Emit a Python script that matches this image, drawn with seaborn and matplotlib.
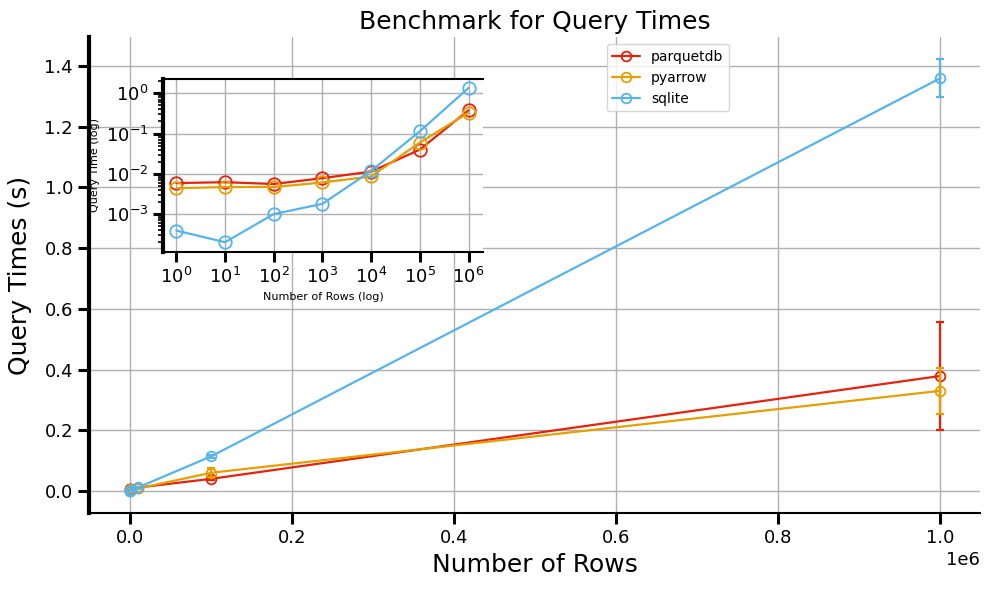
import numpy as np
import pandas as pd
import matplotlib
matplotlib.use("Agg")
import matplotlib.pyplot as plt
import seaborn as sns

rows = [1, 10, 100, 1000, 10000, 100000, 1000000]
series = ["parquetdb", "pyarrow", "sqlite"]
parquetdb_mean = [0.0059, 0.0062, 0.0056, 0.0078, 0.0114, 0.040, 0.379]
pyarrow_mean = [0.0044, 0.0047, 0.0047, 0.0061, 0.0086, 0.060, 0.330]
sqlite_mean = [0.00039, 0.00020, 0.0010, 0.0018, 0.0118, 0.114, 1.360]
parquetdb_err = [0.0005, 0.0005, 0.0005, 0.0006, 0.001, 0.004, 0.177]
pyarrow_err = [0.0004, 0.0004, 0.0004, 0.0005, 0.001, 0.015, 0.076]
sqlite_err = [0.00003, 0.00002, 0.0001, 0.0002, 0.001, 0.004, 0.062]
colors = ["#e8210c", "#e69f00", "#56b4e9"]

means = [parquetdb_mean, pyarrow_mean, sqlite_mean]
errs = [parquetdb_err, pyarrow_err, sqlite_err]
df = pd.DataFrame({
    "rows": rows * 3,
    "time": parquetdb_mean + pyarrow_mean + sqlite_mean,
    "err": parquetdb_err + pyarrow_err + sqlite_err,
    "db": sum([[s] * len(rows) for s in series], []),
})

sns.set_theme(style="whitegrid")
plt.rcParams["font.family"] = ["DejaVu Sans"]
plt.rcParams["text.color"] = "black"
plt.rcParams["axes.labelcolor"] = "black"
plt.rcParams["xtick.color"] = "black"
plt.rcParams["ytick.color"] = "black"

fig = plt.figure(figsize=(9.89, 5.9), dpi=100)
ax = fig.add_axes([0.09, 0.1305, 0.901, 0.8065])

for s, c, m, e in zip(series, colors, means, errs):
    sub = df[df.db == s]
    sns.lineplot(data=sub, x="rows", y="time", ax=ax, color=c, marker="o",
                 markerfacecolor="none", markeredgecolor=c, markeredgewidth=1.3,
                 markersize=7, label=s, linewidth=1.6, errorbar=None)
    ax.errorbar(rows, m, yerr=e, fmt="none", ecolor=c, capsize=3, elinewidth=1.6,
                capthick=1.6)

ax.set_xlim(-0.0506e6, 1.049e6)
ax.set_ylim(-0.0725, 1.495)
ax.set_xticks([0, 0.2e6, 0.4e6, 0.6e6, 0.8e6, 1.0e6])
ax.set_yticks([0.0, 0.2, 0.4, 0.6, 0.8, 1.0, 1.2, 1.4])
ax.set_xlabel("Number of Rows", fontsize=18)
ax.set_ylabel("Query Times (s)", fontsize=18, labelpad=9)
ax.set_title("Benchmark for Query Times", fontsize=18, color="black")
ax.tick_params(axis="both", labelsize=13, length=8, width=2.2, direction="out",
               bottom=True, left=True, color="black", labelcolor="black")
ax.xaxis.get_offset_text().set_fontsize(13)
ax.grid(True, color="#b0b0b0", linewidth=1.0)
ax.set_facecolor("white")
for sp in ["top", "right"]:
    ax.spines[sp].set_visible(False)
ax.spines["left"].set_linewidth(3)
ax.spines["left"].set_color("black")
ax.spines["bottom"].set_linewidth(1.5)
ax.spines["bottom"].set_color("black")
leg = ax.legend(loc="upper left", bbox_to_anchor=(0.581, 0.985), borderaxespad=0,
                fontsize=10, frameon=True)
for t in leg.get_texts():
    t.set_color("black")

# inset
ins = fig.add_axes([0.165, 0.573, 0.323, 0.293])
for s, c, m, e in zip(series, colors, means, errs):
    sub = df[df.db == s]
    sns.lineplot(data=sub, x="rows", y="time", ax=ins, color=c, marker="o",
                 markerfacecolor="none", markeredgecolor=c, markeredgewidth=1.3,
                 markersize=9, linewidth=1.6, errorbar=None, legend=False)
ins.set_xscale("log")
ins.set_yscale("log")
ins.set_xlim(10 ** -0.27, 10 ** 6.29)
ins.set_ylim(10 ** -3.94, 10 ** 0.355)
ins.set_xticks(rows)
ins.set_yticks([1e-3, 1e-2, 1e-1, 1e0])
ins.set_xlabel("Number of Rows (log)", fontsize=8)
ins.set_ylabel("Query Time (log)", fontsize=8)
ins.tick_params(axis="both", which="major", labelsize=13, length=7, width=2.2,
                bottom=True, left=True, color="black", labelcolor="black")
ins.tick_params(axis="both", which="minor", length=3.5, width=1.2,
                bottom=True, left=True, color="black")
ins.grid(True, which="major", color="#b0b0b0", linewidth=1.0)
ins.grid(False, which="minor")
ins.set_facecolor("white")
ins.spines["right"].set_visible(False)
ins.spines["top"].set_color("black")
ins.spines["top"].set_linewidth(1.5)
ins.spines["left"].set_linewidth(3)
ins.spines["left"].set_color("black")
ins.spines["bottom"].set_linewidth(1.5)
ins.spines["bottom"].set_color("black")

fig.savefig("out.png", dpi=100)
